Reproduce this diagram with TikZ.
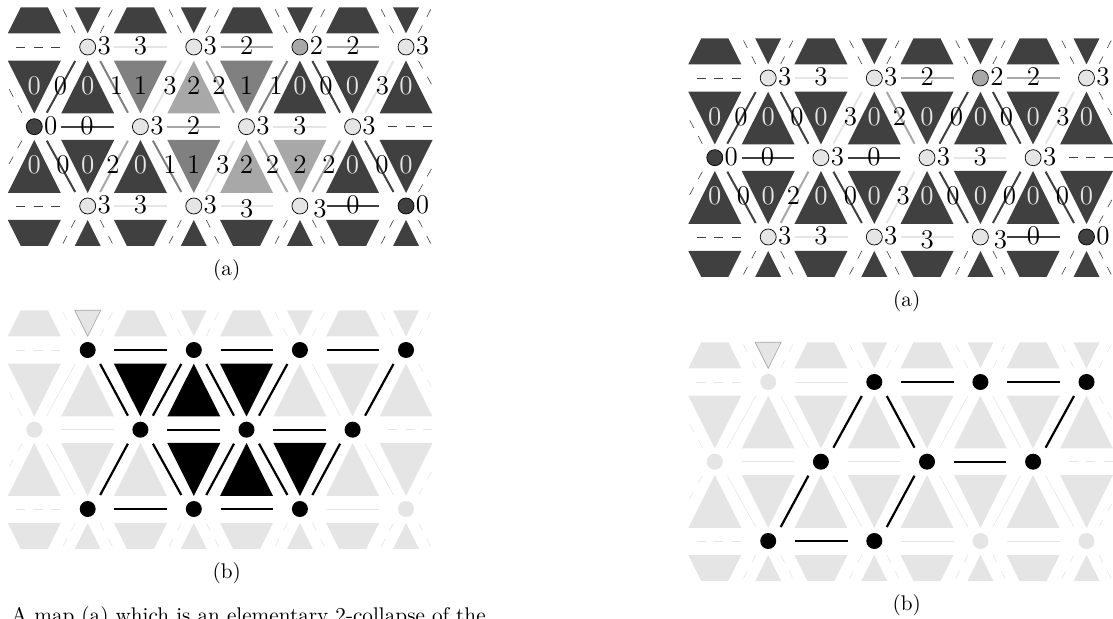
\documentclass[tikz,border=0pt]{standalone}
\usetikzlibrary{calc}
\colorlet{lvl0}{black!75}
\colorlet{lvl1}{black!50}
\colorlet{lvl2}{black!34}
\colorlet{lvl3}{black!10}
\colorlet{lvl4}{black!10}
\colorlet{lvl5}{black}
\tikzset{
  mapedge0/.style={draw=lvl0, line width=1pt},
  mapedge1/.style={draw=lvl1, line width=1pt},
  mapedge2/.style={draw=lvl2, line width=1pt},
  mapedge3/.style={draw=lvl3, line width=1pt},
  mapedge4/.style={draw=lvl4, line width=.3pt},
  mapedge5/.style={draw=black, line width=1.1pt},
  mapvert/.style={circle, minimum size=8pt, inner sep=0pt, line width=.35pt},
  mapvert0/.style={mapvert, draw=black, fill=lvl0},
  mapvert1/.style={mapvert, draw=black, fill=lvl1},
  mapvert2/.style={mapvert, draw=black, fill=lvl2},
  mapvert3/.style={mapvert, draw=black, fill=lvl3},
  mapvert4/.style={mapvert, fill=lvl4},
  mapvert5/.style={mapvert, fill=black},
  hint/.style={line width=.3pt, dash pattern=on 4.25pt off 4.75pt},
  sidedash/.style={line width=.35pt, dash pattern=on 4.5pt off 4.25pt},
  maplabel/.style={inner sep=0pt, font=\fontsize{13.5}{15}\selectfont},
  caption/.style={inner sep=0pt, font=\fontsize{10.6}{12}\selectfont}
}
% lattice points and the ends of the edges around them
\newcommand{\mappoints}{%
  \foreach \n/\x/\y in {a1/87.7/47,a2/193.8/47,a3/299.9/47,a4/406/47,
      b1/34.3/126.7,b2/140.4/126.7,b3/246.5/126.7,b4/352.6/126.7,
      c1/87.7/206,c2/193.8/206,c3/299.9/206,c4/406/206}{
    \coordinate (\n) at (\x,\y);
    \coordinate (\n-e) at (\x+26.7,\y);
    \coordinate (\n-w) at (\x-26.7,\y);
    \coordinate (\n-ne) at (\x+12.5,\y-14);
    \coordinate (\n-nw) at (\x-12.5,\y-14);
    \coordinate (\n-se) at (\x+12.5,\y+14);
    \coordinate (\n-sw) at (\x-12.5,\y+14);
    \coordinate (\n-tl) at (\x-26,7);
    \coordinate (\n-tr) at (\x+26,7);
    \coordinate (\n-bl) at (\x-26,246);
    \coordinate (\n-br) at (\x+26,246);
  }
  \coordinate (leftup) at (8,87);
  \coordinate (leftdn) at (8,166);
  \coordinate (rightup) at (433,87);
  \coordinate (rightdn) at (433,166);
  \coordinate (aleft) at (16,47);
  \coordinate (cleft) at (16,206);
  \coordinate (bright) at (433,126.7);
  \coordinate (bmid) at (388,126.7);
}
% top and bottom strips and the cut edges
\newcommand{\mapborder}[1]{%
  \foreach \x in {34.3,140.4,246.5,352.6}{
    \fill[lvl#1] (\x-26.5,33.3) -- (\x+26.5,33.3) -- (\x+13.5,7.3) -- (\x-13.5,7.3) -- cycle;
    \fill[lvl#1] (\x-26.5,220) -- (\x+26.5,220) -- (\x+13.5,246) -- (\x-13.5,246) -- cycle;
  }
  \foreach \n/\m/\x in {a1/c1/87.7,a2/c2/193.8,a3/c3/299.9,a4/c4/406}{
    \fill[lvl#1] (\x-13,7.3) -- (\x+13,7.3) -- (\x,33.3) -- cycle;
    \fill[lvl#1] (\x-13,246) -- (\x+13,246) -- (\x,220) -- cycle;
    \draw[hint, lvl#1] (\n-nw) -- (\n-tl);
    \draw[hint, lvl#1] (\n-ne) -- (\n-tr);
    \draw[hint, lvl#1] (\m-sw) -- (\m-bl);
    \draw[hint, lvl#1] (\m-se) -- (\m-br);
  }
  \draw[hint, lvl#1] (b1-nw) -- (leftup);
  \draw[hint, lvl#1] (b1-sw) -- (leftdn);
  \draw[hint, lvl#1] (a4-se) -- (rightup);
  \draw[hint, lvl#1] (c4-ne) -- (rightdn);
  \draw[sidedash, lvl#1] (aleft) -- (a1-w);
  \draw[sidedash, lvl#1] (cleft) -- (c1-w);
  \draw[sidedash, lvl#1] (bmid) -- (bright);
}
% the two middle strips, values left to right
\newcommand{\maptiles}[2]{%
  \foreach \x [count=\i] in {34.3,87.7,140.4,193.8,246.5,299.9,352.6,406}{
    \pgfmathtruncatemacro\v{{#1}[\i-1]}
    \ifodd\i
      \fill[lvl\v] (\x-26.5,60.7) -- (\x+26.5,60.7) -- (\x,113.5) -- cycle;
    \else
      \fill[lvl\v] (\x-26.5,113.5) -- (\x+26.5,113.5) -- (\x,60.7) -- cycle;
    \fi
    \ifnum\v=0 \node[maplabel, text=lvl3] (up\i) at (\x,86) {\v};
    \else\ifnum\v<4 \node[maplabel] (up\i) at (\x,86) {\v};\fi\fi
    \pgfmathtruncatemacro\v{{#2}[\i-1]}
    \ifodd\i
      \fill[lvl\v] (\x-26.5,193) -- (\x+26.5,193) -- (\x,140) -- cycle;
    \else
      \fill[lvl\v] (\x-26.5,140) -- (\x+26.5,140) -- (\x,193) -- cycle;
    \fi
    \ifnum\v=0 \node[maplabel, text=lvl3] (dn\i) at (\x,165) {\v};
    \else\ifnum\v<4 \node[maplabel] (dn\i) at (\x,165) {\v};\fi\fi
  }
}
\newcommand{\mapedges}[1]{%
  \foreach \p/\q/\lx/\ly [count=\i] in {a1-sw/b1-ne/60.5/86,a1-se/b2-nw/116.5/86,a2-sw/b2-ne/170/86,
      a2-se/b3-nw/219/86,a3-sw/b3-ne/276/86,a3-se/b4-nw/326/86,a4-sw/b4-ne/382.5/86,
      b1-se/c1-nw/63/165,b2-sw/c1-ne/113/165,b2-se/c2-nw/170/165,b3-sw/c2-ne/222.7/165,
      b3-se/c3-nw/272.5/165,b4-sw/c3-ne/329/165,b4-se/c4-nw/382/165,
      a1-e/a2-w/140.5/46,a2-e/a3-w/246.7/46,a3-e/a4-w/353/46,
      b1-e/b2-w/87/126,b2-e/b3-w/193.5/126,b3-e/b4-w/299.7/126,
      c1-e/c2-w/140.5/205,c2-e/c3-w/246.7/209,c3-e/c4-w/353/205}{
    \pgfmathtruncatemacro\v{{#1}[\i-1]}
    \draw[mapedge\v] (\p) -- (\q);
    \ifnum\v<4 \node[maplabel] (edge\i) at (\lx,\ly) {\v};\fi
  }
}
\newcommand{\mapverts}[1]{%
  \foreach \n/\dx/\dy [count=\i] in {a1/16.5/-1,a2/16.5/-1,a3/16.5/-1,a4/16.5/-1,
      b1/16.5/-1,b2/16.5/-1,b3/16.5/-1,b4/16.5/-1,
      c1/16.5/-1,c2/16.5/-1,c3/20/3,c4/16.5/-1}{
    \pgfmathtruncatemacro\v{{#1}[\i-1]}
    \node[mapvert\v] (v\n) at (\n) {};
    \ifnum\v<4 \node[maplabel] (l\n) at ($(\n)+(\dx,\dy)$) {\v};\fi
  }
}
\newcommand{\markedtile}{%
  \filldraw[fill=lvl3, draw=black!35, line width=.3pt] (74.7,7.3) -- (100.7,7.3) -- (87.7,33.3) -- cycle;
}
\begin{document}
\begin{tikzpicture}[x=.5pt, y=-.5pt]
\useasboundingbox (0,0) rectangle (1113,619);
\begin{scope}[name prefix=la-]
  \mappoints
  \mapborder{0}
  \maptiles{0,0,1,2,1,0,0,0}{0,0,0,1,2,2,0,0}
  \mapedges{0,1,3,2,1,0,3, 0,2,1,3,2,2,0, 3,2,2, 0,2,3, 3,3,0}
  \mapverts{3,3,2,3, 0,3,3,3, 3,3,3,0}
\end{scope}
\begin{scope}[name prefix=lb-, yshift=-151.5pt]
  \mappoints
  \mapborder{4}
  \maptiles{4,4,5,5,5,4,4,4}{4,4,4,5,5,5,4,4}
  \mapedges{4,5,5,5,5,4,5, 4,5,5,5,5,5,4, 5,5,5, 4,5,5, 5,5,4}
  \mapverts{5,5,5,5, 4,5,5,5, 5,5,5,4}
  \markedtile
\end{scope}
\begin{scope}[name prefix=ra-, xshift=340.25pt, yshift=-15.5pt]
  \mappoints
  \mapborder{0}
  \maptiles{0,0,0,0,0,0,0,0}{0,0,0,0,0,0,0,0}
  \mapedges{0,0,3,2,0,0,3, 0,2,0,3,0,0,0, 3,2,2, 0,0,3, 3,3,0}
  \mapverts{3,3,2,3, 0,3,3,3, 3,3,3,0}
\end{scope}
\begin{scope}[name prefix=rb-, xshift=340.25pt, yshift=-167.5pt]
  \mappoints
  \mapborder{4}
  \maptiles{4,4,4,4,4,4,4,4}{4,4,4,4,4,4,4,4}
  \mapedges{4,4,5,5,4,4,5, 4,5,4,5,4,4,4, 4,5,5, 4,4,5, 5,4,4}
  \mapverts{4,5,5,5, 4,5,5,5, 5,5,4,4}
  \markedtile
\end{scope}
\node[caption] (capla) at (226.7,270) {(a)};
\node[caption] (caplb) at (226.7,573) {(b)};
\node[caption] (capra) at (906.7,301.7) {(a)};
\node[caption] (caprb) at (906.7,605) {(b)};
\node[caption, anchor=base west] (note) at (11,622) {A map (a) which is an elementary 2-collapse of the};
\end{tikzpicture}
\end{document}
